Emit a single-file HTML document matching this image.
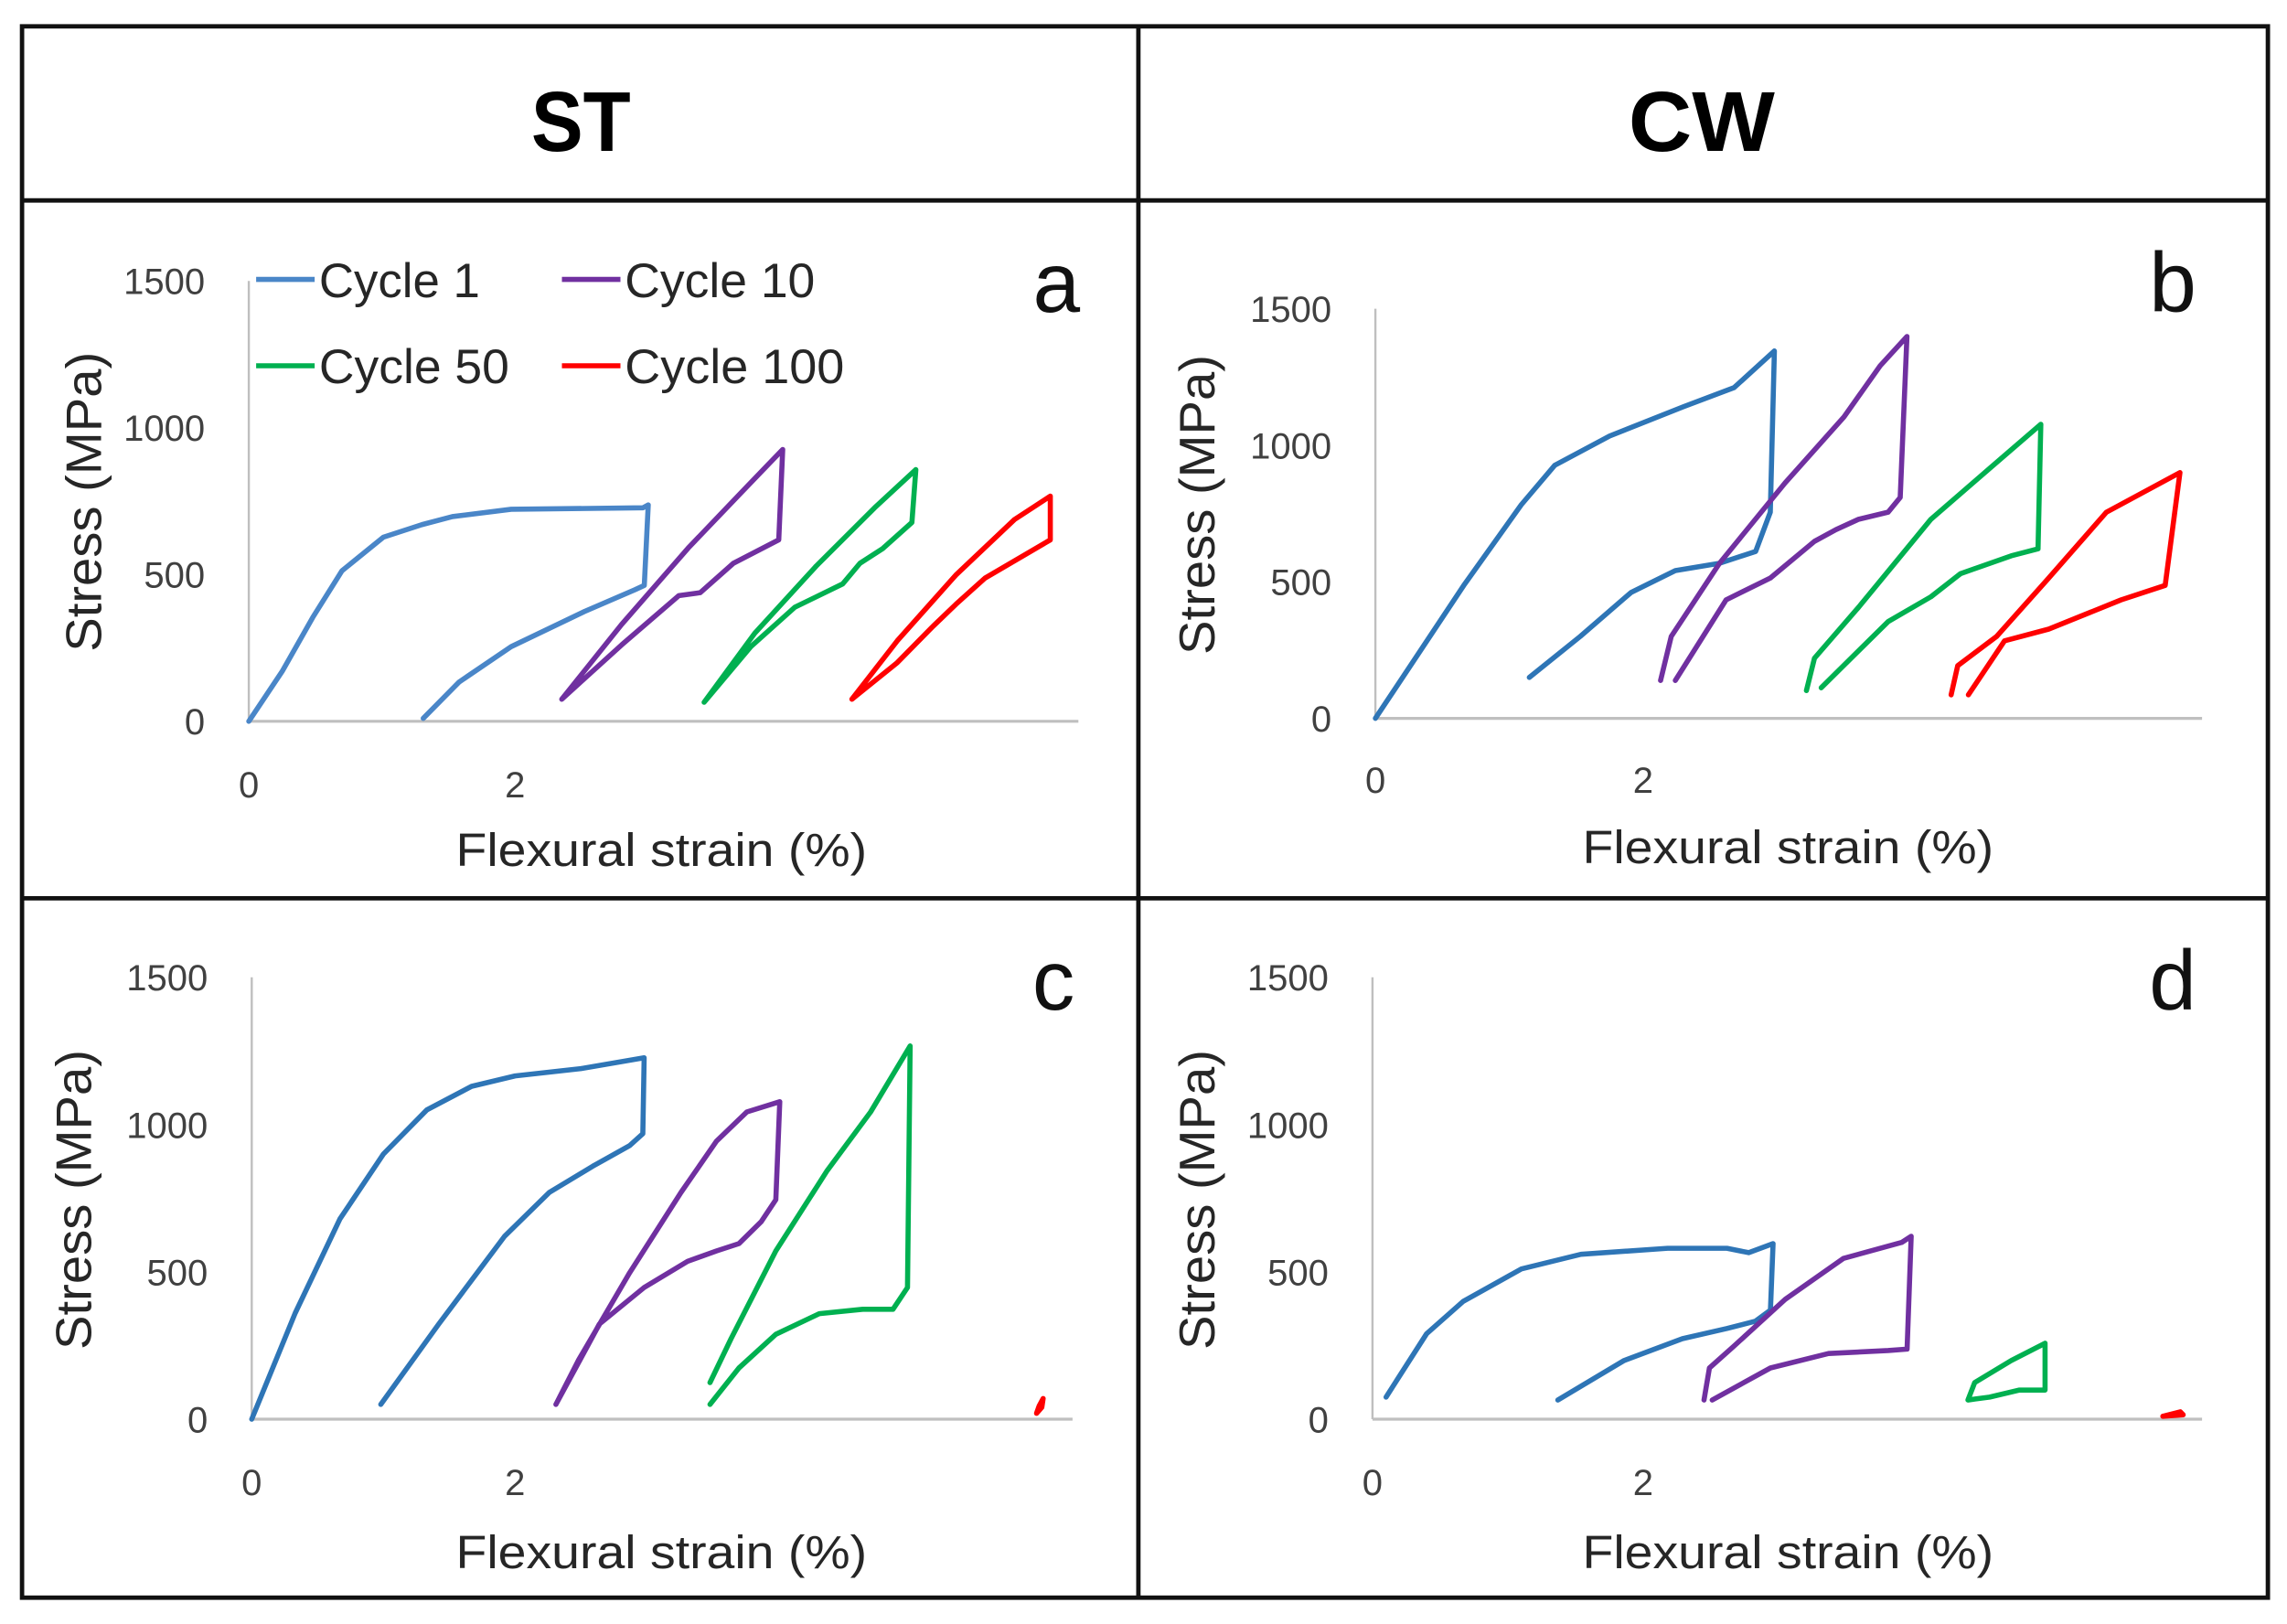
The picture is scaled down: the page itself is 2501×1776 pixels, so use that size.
<!DOCTYPE html>
<html><head><meta charset="utf-8">
<style>
html,body{margin:0;padding:0;background:#fff;}
svg{display:block;}
text{font-family:"Liberation Sans",sans-serif;}
</style></head>
<body>
<svg id="fig" width="2501" height="1776" viewBox="0 0 1563 1110" xmlns="http://www.w3.org/2000/svg">
  <rect x="0" y="0" width="1563" height="1110" fill="#fff"/>
  <g stroke="#111" stroke-width="3" fill="none">
    <rect x="15" y="18" width="1535" height="1074"/>
    <line x1="15" y1="137" x2="1550" y2="137"/>
    <line x1="15" y1="614" x2="1550" y2="614"/>
    <line x1="778" y1="18" x2="778" y2="1092"/>
  </g>
  <text x="397" y="103" font-size="58" font-weight="bold" text-anchor="middle" textLength="68" lengthAdjust="spacingAndGlyphs">ST</text>
  <text x="1163" y="103" font-size="58" font-weight="bold" text-anchor="middle" textLength="100" lengthAdjust="spacingAndGlyphs">CW</text>
  <g id="panels"></g>
</svg>
<script>
// Series data (strain %, stress MPa)
const aC1x=[0,0.25,0.48,0.70,1.01,1.30,1.53,1.97,2.96,3.00,2.97,2.90,2.52,1.97,1.58,1.31];
const aC1y=[0,170,354,513,627,670,697,722,727,737,463,448,374,254,134,10];
const aC10x=[2.35,2.8,3.3,3.7,4.01,3.98,3.64,3.39,3.23,2.8,2.35];
const aC10y=[75,330,590,780,926,618,538,438,428,260,75];
const aC50x=[3.42,3.8,4.26,4.70,5.01,4.98,4.76,4.59,4.46,4.10,3.77,3.42];
const aC50y=[65,300,528,727,857,677,588,538,468,388,254,65];
const aC100x=[4.53,4.87,5.31,5.75,6.02,6.02,5.53,5.31,5.14,4.87,4.53];
const aC100y=[75,274,498,687,767,618,488,398,324,200,75];

const bC1x=[0,0.66,1.09,1.34,1.75,2.30,2.68,2.98,2.95,2.84,2.57,2.24,1.91,1.53,1.15];
const bC1y=[0,487,782,927,1034,1141,1211,1345,755,611,568,541,461,300,150];
const bC10x=[2.13,2.21,2.57,3.06,3.50,3.77,3.97,3.92,3.83,3.61,3.44,3.28,2.95,2.62,2.24];
const bC10y=[139,300,568,862,1104,1291,1398,809,755,729,691,648,514,434,139];
const bC50x=[3.22,3.28,3.61,4.15,4.59,4.97,4.95,4.75,4.37,4.15,3.83,3.33];
const bC50y=[102,220,407,729,916,1077,621,595,530,445,354,112];
const bC100x=[4.30,4.35,4.64,5.03,5.46,6.01,5.90,5.57,5.03,4.70,4.43];
const bC100y=[86,193,300,514,755,900,487,434,327,284,86];

const cC1x=[0,0.33,0.67,1.0,1.33,1.67,2.0,2.5,2.98,2.97,2.87,2.59,2.26,1.92,1.42,0.98];
const cC1y=[0,360,680,900,1050,1130,1165,1190,1227,969,929,859,770,621,323,50];
const cC10x=[2.31,2.48,2.87,3.26,3.53,3.76,4.01,3.98,3.87,3.70,3.53,3.31,2.98,2.64,2.31];
const cC10y=[50,199,497,770,944,1043,1078,745,671,596,571,536,447,323,50];
const cC50x=[3.48,3.64,3.98,4.37,4.70,5.0,4.98,4.87,4.64,4.31,3.98,3.70,3.48];
const cC50y=[124,273,571,844,1043,1267,447,373,373,358,288,174,50];
const cC100x=[5.96,5.98,6.01,6.00,5.96];
const cC100y=[20,45,70,40,20];

const dC1x=[0.10,0.40,0.67,1.10,1.54,2.18,2.62,2.78,2.96,2.94,2.83,2.62,2.29,1.86,1.37];
const dC1y=[75,290,400,510,560,580,580,565,596,370,333,308,273,199,65];
const dC10x=[2.45,2.49,2.67,3.05,3.48,3.91,3.98,3.95,3.81,3.37,2.94,2.51];
const dC10y=[65,174,248,407,546,600,621,238,233,223,174,65];
const dC50x=[4.40,4.45,4.72,4.97,4.97,4.78,4.56,4.40];
const dC50y=[65,124,199,258,99,99,75,65];
const dC100x=[5.84,5.97,5.99,5.84];
const dC100y=[10,25,15,10];

const yTicks=[0,500,1000,1500];
const yTickLabels=["0","500","1000","1500"];
const xTicks=[0,2];
const xTickLabels=["0","2"];
const seriesNames=["Cycle 1","Cycle 10","Cycle 50","Cycle 100"];
const seriesColors=["#2e75b6","#7030a0","#00b050","#ff0000"];

const panels=[
 {id:"a",ox:170,oy:493,top:192,xr:737,ux:91,letter:"a",lx:722,ly:213,titleX:452,tickY:545,titleY:592,ytX:57,ytY:343,tickLX:140,
  series:[[aC1x,aC1y],[aC10x,aC10y],[aC50x,aC50y],[aC100x,aC100y]],c1:"#4a86c8"},
 {id:"b",ox:940,oy:491,top:211,xr:1505,ux:91.5,letter:"b",lx:1485,ly:213,titleX:1222,tickY:542,titleY:590,ytX:818,ytY:345,tickLX:910,
  series:[[bC1x,bC1y],[bC10x,bC10y],[bC50x,bC50y],[bC100x,bC100y]]},
 {id:"c",ox:172,oy:970,top:668,xr:733,ux:90,letter:"c",lx:720,ly:690,titleX:452,tickY:1022,titleY:1072,ytX:50,ytY:820,tickLX:142,
  series:[[cC1x,cC1y],[cC10x,cC10y],[cC50x,cC50y],[cC100x,cC100y]]},
 {id:"d",ox:938,oy:970,top:668,xr:1505,ux:92.5,letter:"d",lx:1485,ly:690,titleX:1222,tickY:1022,titleY:1072,ytX:818,ytY:820,tickLX:908,
  series:[[dC1x,dC1y],[dC10x,dC10y],[dC50x,dC50y],[dC100x,dC100y]]}
];
const NS="http://www.w3.org/2000/svg";
const root=document.getElementById("panels");
function mk(tag,attrs,parent){const e=document.createElementNS(NS,tag);for(const k in attrs)e.setAttribute(k,attrs[k]);parent.appendChild(e);return e;}
panels.forEach(p=>{
  const xs=v=>p.ox+v*p.ux;
  const ys=v=>p.oy-(v/1500)*(p.oy-p.top);
  const g=mk("g",{},root);
  
  
  const ya=mk("line",{x1:p.ox,y1:p.top,x2:p.ox,y2:p.oy,stroke:"#bfbfbf","stroke-width":1.5},g);
  
  
  const xa=mk("line",{x1:p.ox,y1:p.oy,x2:p.xr,y2:p.oy,stroke:"#bfbfbf","stroke-width":2},g);
  
  
  yTicks.forEach((t,i)=>{
    const tx=mk("text",{x:p.tickLX,y:ys(t)+9,"font-size":25,"text-anchor":"end",fill:"#404040"},g);
    tx.textContent=yTickLabels[i];
    
    
  });
  xTicks.forEach((t,i)=>{
    const tx=mk("text",{x:xs(t),y:p.tickY,"font-size":25,"text-anchor":"middle",fill:"#404040"},g);
    tx.textContent=xTickLabels[i];
    
    
  });
  const xt=mk("text",{x:p.titleX,y:p.titleY,"font-size":32,"text-anchor":"middle",fill:"#262626",textLength:281,lengthAdjust:"spacingAndGlyphs"},g);
  xt.textContent="Flexural strain (%)";
  
  
  const yt=mk("text",{x:0,y:0,"font-size":34,"text-anchor":"middle",fill:"#262626",textLength:205,lengthAdjust:"spacingAndGlyphs",transform:`translate(${p.ytX+12},${p.ytY}) rotate(-90)`},g);
  yt.textContent="Stress (MPa)";
  
  
  const lt=mk("text",{x:p.lx,y:p.ly,"font-size":58,"text-anchor":"middle",fill:"#111"},g);
  lt.textContent=p.letter;
  
  
  p.series.forEach((s,i)=>{
    const pts=s[0].map((x,j)=>xs(x).toFixed(1)+","+ys(s[1][j]).toFixed(1)).join(" ");
    const col=(i===0&&p.c1)?p.c1:seriesColors[i];
    const pl=mk("polyline",{points:pts,fill:"none",stroke:col,"stroke-width":3.5,"stroke-linejoin":"round","stroke-linecap":"round"},g);
    
    
  });
});
// legend in panel a
const leg=mk("g",{},root);


const legPos=[[175,191],[384,191],[175,250],[384,250]];
seriesNames.forEach((n,i)=>{
  const col=i===0?"#4a86c8":seriesColors[i];
  const ln=mk("line",{x1:legPos[i][0],y1:legPos[i][1],x2:legPos[i][0]+40,y2:legPos[i][1],stroke:col,"stroke-width":3.5},leg);
  
  
  const tl=[110,130,130,150][i];
  const tx=mk("text",{x:legPos[i][0]+43,y:legPos[i][1]+12,"font-size":33,fill:"#262626",textLength:tl,lengthAdjust:"spacingAndGlyphs"},leg);
  tx.textContent=n;
  
  
});
</script>
</body></html>
